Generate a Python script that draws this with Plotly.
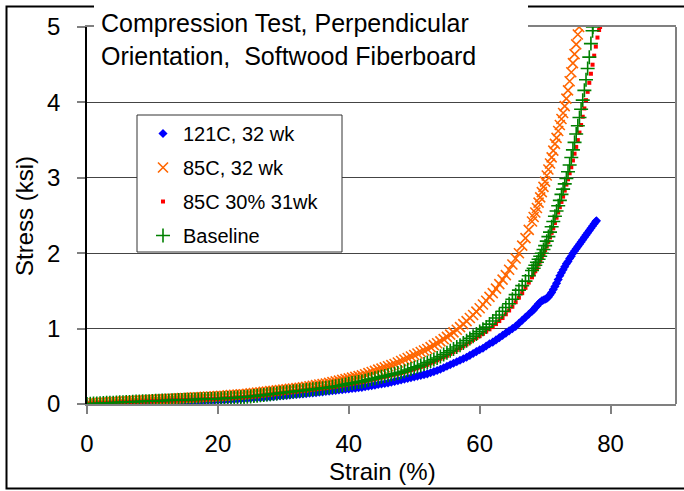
import plotly.graph_objects as go

# ---------------- data ----------------
series_names = ["121C, 32 wk", "85C, 32 wk", "85C 30% 31wk", "Baseline"]

# strain grid shared by the lower part of every curve (%)
strain_low = [0, 0.5, 1, 1.5, 2, 2.5, 3, 3.5, 4, 4.5,
              5, 5.5, 6, 6.5, 7, 7.5, 8, 8.5, 9, 9.5,
              10, 10.5, 11, 11.5, 12, 12.5, 13, 13.5, 14, 14.5,
              15, 15.5, 16, 16.5, 17, 17.5, 18, 18.5, 19, 19.5,
              20, 20.5, 21, 21.5, 22, 22.5, 23, 23.5, 24, 24.5,
              25, 25.5, 26, 26.5, 27, 27.5, 28, 28.5, 29, 29.5,
              30, 30.5, 31, 31.5, 32, 32.5, 33, 33.5, 34, 34.5,
              35, 35.5, 36, 36.5, 37, 37.5, 38, 38.5, 39, 39.5,
              40, 40.5, 41, 41.5, 42, 42.5, 43, 43.5, 44, 44.5,
              45, 45.5, 46, 46.5, 47, 47.5, 48, 48.5, 49, 49.5,
              50, 50.5, 51, 51.5, 52, 52.5, 53, 53.5, 54, 54.5,
              55, 55.5, 56, 56.5, 57, 57.5, 58, 58.5, 59, 59.5,
              60, 60.5, 61, 61.5, 62, 62.5, 63, 63.5, 64, 64.5,
              65, 65.5, 66, 66.5, 67, 67.5,
              68]

# 121C, 32 wk
stress_low_121C = [0.0, 0.002, 0.003, 0.005, 0.006, 0.008, 0.009, 0.011, 0.012, 0.014,
                   0.015, 0.017, 0.018, 0.02, 0.021, 0.023, 0.024, 0.026, 0.027, 0.029,
                   0.03, 0.031, 0.032, 0.033, 0.034, 0.035, 0.036, 0.037, 0.038, 0.039,
                   0.04, 0.041, 0.042, 0.043, 0.044, 0.045, 0.046, 0.047, 0.048, 0.049,
                   0.05, 0.052, 0.055, 0.057, 0.06, 0.062, 0.065, 0.067, 0.07, 0.073,
                   0.076, 0.079, 0.082, 0.085, 0.088, 0.091, 0.095, 0.098, 0.102, 0.106,
                   0.11, 0.114, 0.118, 0.122, 0.126, 0.13, 0.134, 0.138, 0.142, 0.146,
                   0.15, 0.155, 0.16, 0.165, 0.17, 0.175, 0.18, 0.185, 0.19, 0.195,
                   0.20, 0.205, 0.21, 0.215, 0.22, 0.228, 0.235, 0.242, 0.25, 0.258,
                   0.265, 0.272, 0.28, 0.29, 0.30, 0.31, 0.32, 0.33, 0.34, 0.35,
                   0.36, 0.37, 0.38, 0.39, 0.40, 0.415, 0.43, 0.445, 0.46, 0.48,
                   0.50, 0.52, 0.54, 0.56, 0.58, 0.60, 0.62, 0.645, 0.67, 0.695,
                   0.72, 0.74, 0.77, 0.80, 0.82, 0.85, 0.88, 0.91, 0.94, 0.97,
                   1.00, 1.03, 1.07, 1.11, 1.15, 1.19,
                   1.23]
strain_high_121C = [68.25, 68.5, 68.75, 69, 69.25, 69.5, 69.75, 70, 70.25, 70.5, 70.75, 71,
                    71.25, 71.5, 71.75, 72, 72.25, 72.5, 72.75, 73, 73.25, 73.5, 73.75, 74,
                    74.25, 74.5, 74.75, 75, 75.25, 75.5, 75.75, 76, 76.25, 76.5, 76.75, 77,
                    77.25, 77.5, 77.75, 77.85]
stress_high_121C = [1.25, 1.28, 1.30, 1.33, 1.35, 1.37, 1.38, 1.39, 1.40, 1.42, 1.45, 1.48,
                    1.52, 1.56, 1.60, 1.65, 1.70, 1.74, 1.78, 1.82, 1.86, 1.89, 1.93, 1.96,
                    2.00, 2.03, 2.06, 2.09, 2.12, 2.15, 2.18, 2.21, 2.24, 2.27, 2.30, 2.33,
                    2.36, 2.39, 2.42, 2.43]

# 85C, 32 wk
stress_low_85C = [0.0, 0.005, 0.01, 0.012, 0.015, 0.018, 0.02, 0.022, 0.025, 0.028,
                  0.03, 0.032, 0.035, 0.038, 0.04, 0.042, 0.045, 0.048, 0.05, 0.052,
                  0.055, 0.058, 0.06, 0.062, 0.065, 0.068, 0.07, 0.072, 0.075, 0.078,
                  0.08, 0.082, 0.085, 0.088, 0.09, 0.092, 0.095, 0.098, 0.10, 0.102,
                  0.105, 0.108, 0.11, 0.115, 0.12, 0.122, 0.125, 0.128, 0.13, 0.135,
                  0.14, 0.145, 0.15, 0.155, 0.16, 0.165, 0.17, 0.175, 0.18, 0.185,
                  0.19, 0.195, 0.20, 0.205, 0.21, 0.215, 0.22, 0.228, 0.235, 0.242,
                  0.25, 0.258, 0.265, 0.272, 0.28, 0.29, 0.30, 0.31, 0.32, 0.33,
                  0.34, 0.35, 0.36, 0.37, 0.38, 0.395, 0.41, 0.425, 0.44, 0.455,
                  0.47, 0.485, 0.50, 0.515, 0.53, 0.55, 0.57, 0.59, 0.61, 0.63,
                  0.65, 0.67, 0.69, 0.71, 0.73, 0.755, 0.78, 0.805, 0.83, 0.86,
                  0.89, 0.92, 0.95, 0.985, 1.02, 1.06, 1.10, 1.14, 1.18, 1.225,
                  1.27, 1.32, 1.37, 1.42, 1.47, 1.53, 1.59, 1.65, 1.71, 1.78,
                  1.85, 1.93, 2.00, 2.10, 2.20, 2.31,
                  2.42]
strain_high_85C = [68.25, 68.5, 68.75, 69, 69.25, 69.5, 69.75, 70, 70.25, 70.5, 70.75, 71,
                   71.25, 71.5, 71.75, 72, 72.25, 72.5, 72.75, 73, 73.25, 73.5, 73.75, 74,
                   74.25, 74.5, 74.75, 75, 75.2]
stress_high_85C = [2.48, 2.54, 2.60, 2.67, 2.74, 2.81, 2.88, 2.95, 3.03, 3.11, 3.19, 3.27,
                   3.36, 3.45, 3.53, 3.62, 3.70, 3.78, 3.86, 3.95, 4.05, 4.16, 4.28, 4.40,
                   4.52, 4.64, 4.77, 4.90, 5.00]

# 85C 30% 31wk
stress_low_85C30 = [0.0, 0.002, 0.004, 0.006, 0.008, 0.01, 0.012, 0.014, 0.016, 0.018,
                    0.02, 0.022, 0.024, 0.026, 0.028, 0.03, 0.031, 0.032, 0.034, 0.035,
                    0.037, 0.038, 0.04, 0.042, 0.043, 0.045, 0.046, 0.048, 0.049, 0.05,
                    0.052, 0.054, 0.055, 0.057, 0.058, 0.06, 0.061, 0.063, 0.064, 0.066,
                    0.067, 0.07, 0.072, 0.075, 0.077, 0.08, 0.083, 0.086, 0.09, 0.093,
                    0.097, 0.10, 0.105, 0.11, 0.115, 0.12, 0.125, 0.13, 0.135, 0.14,
                    0.145, 0.15, 0.155, 0.16, 0.165, 0.17, 0.175, 0.18, 0.185, 0.19,
                    0.195, 0.20, 0.205, 0.21, 0.215, 0.222, 0.228, 0.235, 0.243, 0.25,
                    0.26, 0.268, 0.275, 0.282, 0.29, 0.30, 0.31, 0.32, 0.33, 0.34,
                    0.35, 0.36, 0.37, 0.38, 0.39, 0.40, 0.41, 0.422, 0.435, 0.448,
                    0.46, 0.475, 0.49, 0.505, 0.52, 0.54, 0.56, 0.58, 0.60, 0.62,
                    0.64, 0.665, 0.69, 0.715, 0.74, 0.765, 0.79, 0.82, 0.85, 0.875,
                    0.90, 0.93, 0.96, 0.99, 1.02, 1.06, 1.10, 1.14, 1.19, 1.24,
                    1.29, 1.35, 1.41, 1.47, 1.54, 1.61,
                    1.68]
strain_high_85C30 = [68.25, 68.5, 68.75, 69, 69.25, 69.5, 69.75, 70, 70.25, 70.5, 70.75, 71,
                     71.25, 71.5, 71.75, 72, 72.25, 72.5, 72.75, 73, 73.25, 73.5, 73.75, 74,
                     74.25, 74.5, 74.75, 75, 75.25, 75.5, 75.75, 76, 76.25, 76.5, 76.75, 77,
                     77.25, 77.5, 77.75, 78, 78.25, 78.4]
stress_high_85C30 = [1.72, 1.76, 1.80, 1.85, 1.89, 1.94, 1.99, 2.04, 2.09, 2.15, 2.21, 2.27,
                     2.33, 2.40, 2.47, 2.54, 2.61, 2.68, 2.75, 2.83, 2.91, 2.98, 3.06, 3.14,
                     3.23, 3.32, 3.41, 3.50, 3.60, 3.70, 3.81, 3.92, 4.03, 4.14, 4.26, 4.38,
                     4.50, 4.62, 4.74, 4.86, 4.96, 5.00]

# Baseline
stress_low_base = [0.0, 0.003, 0.005, 0.008, 0.01, 0.012, 0.015, 0.017, 0.018, 0.02,
                   0.022, 0.024, 0.026, 0.028, 0.03, 0.032, 0.034, 0.035, 0.037, 0.038,
                   0.04, 0.042, 0.043, 0.045, 0.046, 0.048, 0.049, 0.05, 0.052, 0.054,
                   0.055, 0.057, 0.058, 0.06, 0.061, 0.063, 0.064, 0.066, 0.067, 0.068,
                   0.07, 0.072, 0.075, 0.078, 0.08, 0.083, 0.087, 0.09, 0.094, 0.097,
                   0.10, 0.105, 0.11, 0.115, 0.12, 0.125, 0.13, 0.135, 0.14, 0.145,
                   0.15, 0.155, 0.16, 0.165, 0.17, 0.175, 0.18, 0.185, 0.19, 0.195,
                   0.20, 0.205, 0.21, 0.215, 0.22, 0.228, 0.235, 0.242, 0.25, 0.26,
                   0.27, 0.278, 0.285, 0.292, 0.30, 0.31, 0.32, 0.33, 0.34, 0.35,
                   0.36, 0.37, 0.38, 0.39, 0.40, 0.41, 0.42, 0.435, 0.45, 0.465,
                   0.48, 0.495, 0.51, 0.53, 0.55, 0.57, 0.59, 0.61, 0.63, 0.655,
                   0.68, 0.705, 0.73, 0.755, 0.78, 0.81, 0.84, 0.87, 0.90, 0.93,
                   0.96, 0.99, 1.02, 1.06, 1.10, 1.14, 1.18, 1.23, 1.28, 1.33,
                   1.39, 1.45, 1.51, 1.57, 1.63, 1.70,
                   1.77]
strain_high_base = [68.25, 68.5, 68.75, 69, 69.25, 69.5, 69.75, 70, 70.25, 70.5, 70.75, 71,
                    71.25, 71.5, 71.75, 72, 72.25, 72.5, 72.75, 73, 73.25, 73.5, 73.75, 74,
                    74.25, 74.5, 74.75, 75, 75.25, 75.5, 75.75, 76, 76.25, 76.5, 76.75, 77,
                    77.25, 77.3]
stress_high_base = [1.80, 1.84, 1.88, 1.92, 1.96, 2.00, 2.05, 2.10, 2.16, 2.22, 2.28, 2.35,
                    2.42, 2.49, 2.56, 2.63, 2.70, 2.78, 2.85, 2.92, 2.99, 3.08, 3.17, 3.27,
                    3.37, 3.47, 3.58, 3.69, 3.80, 3.91, 4.03, 4.16, 4.30, 4.45, 4.60, 4.78,
                    4.95, 5.00]

x_ticks = [0, 20, 40, 60, 80]
y_ticks = [0, 1, 2, 3, 4, 5]

title_text = "Compression Test, Perpendicular<br>Orientation,\u00a0 Softwood Fiberboard"
x_title = "Strain (%)"
y_title = "Stress (ksi)"

# ---------------- layout geometry (pixels) ----------------
W, H = 684, 491
ML, MR, MT, MB = 87, 8, 27, 87
PW, PH = W - ML - MR, H - MT - MB


def px(x):
    return (x - ML) / PW


def py(y):
    return (H - MB - y) / PH


FONT = "Liberation Sans, Arial, sans-serif"

fig = go.Figure()

fig.add_trace(go.Scatter(
    x=strain_low + strain_high_121C, y=stress_low_121C + stress_high_121C,
    mode="markers", name=series_names[0], legendgroup="a",
    marker=dict(symbol="diamond", size=7, color="#0000FF", line=dict(width=0))))
fig.add_trace(go.Scatter(
    x=strain_low + strain_high_85C, y=stress_low_85C + stress_high_85C,
    mode="markers", name=series_names[1], legendgroup="b",
    marker=dict(symbol="x-thin", size=10, color="#FF6600",
                line=dict(width=1.6, color="#FF6600"))))
fig.add_trace(go.Scatter(
    x=strain_low + strain_high_85C30, y=stress_low_85C30 + stress_high_85C30,
    mode="markers", name=series_names[2], legendgroup="c",
    marker=dict(symbol="square", size=4, color="#FF0000", line=dict(width=0))))
fig.add_trace(go.Scatter(
    x=strain_low + strain_high_base, y=stress_low_base + stress_high_base,
    mode="markers", name=series_names[3], legendgroup="d",
    marker=dict(symbol="cross-thin", size=10, color="#008000",
                line=dict(width=1.6, color="#008000"))))

shapes = [
    # outer chart frame
    dict(type="rect", xref="paper", yref="paper", layer="above",
         x0=px(6.5), x1=px(692), y0=py(488.5), y1=py(6.5),
         line=dict(color="black", width=2), fillcolor="rgba(0,0,0,0)"),
    # right edge of plot area
    dict(type="line", xref="paper", yref="paper", layer="above",
         x0=1, x1=1, y0=0, y1=1, line=dict(color="#808080", width=2)),
    # legend box
    dict(type="rect", xref="paper", yref="paper", layer="above",
         x0=px(137), x1=px(342), y0=py(252), y1=py(115),
         line=dict(color="#333333", width=1), fillcolor="white"),
]

TITLE_L, TITLE_R, TITLE_T, TITLE_B = 94, 528, 4, 75
TITLE_PAD = 7

annotations = [
    # chart title in an opaque white box that hides the frame behind it
    dict(text=title_text, xref="paper", yref="paper", x=px(TITLE_L), y=py(TITLE_T),
         xanchor="left", yanchor="top", align="left", valign="middle",
         width=TITLE_R - TITLE_L - 2 * TITLE_PAD,
         height=TITLE_B - TITLE_T - 2 * TITLE_PAD,
         bgcolor="white", bordercolor="white", borderwidth=0, borderpad=TITLE_PAD,
         showarrow=False,
         font=dict(family=FONT, size=25, color="black")),
    dict(text=x_title, xref="paper", yref="paper", x=px(382), y=py(471),
         xanchor="center", yanchor="middle", showarrow=False,
         font=dict(family=FONT, size=24, color="black")),
    dict(text=y_title, xref="paper", yref="paper", x=px(24), y=py(216),
         xanchor="center", yanchor="middle", textangle=-90, showarrow=False,
         font=dict(family=FONT, size=24, color="black")),
]

fig.update_layout(
    width=W, height=H,
    margin=dict(l=ML, r=MR, t=MT, b=MB, pad=0),
    paper_bgcolor="white", plot_bgcolor="white",
    font=dict(family=FONT, size=24, color="black"),
    showlegend=True,
    legend=dict(x=px(143), y=py(114), xanchor="left", yanchor="top",
                bgcolor="rgba(0,0,0,0)", borderwidth=0,
                font=dict(family=FONT, size=20, color="black"),
                tracegroupgap=5, traceorder="grouped"),
    shapes=shapes,
    annotations=annotations,
    xaxis=dict(range=[0, 90], tickvals=x_ticks, ticks="outside", ticklen=8,
               tickwidth=2, tickcolor="#808080", showline=True, linecolor="#808080",
               linewidth=2, mirror=True, showgrid=False, zeroline=False,
               tickfont=dict(family=FONT, size=24, color="black"),
               ticklabelstandoff=9),
    yaxis=dict(range=[0, 5], tickvals=y_ticks, ticks="outside", ticklen=8,
               tickwidth=2, tickcolor="#808080", showline=True, linecolor="black",
               linewidth=1.5, mirror=False, showgrid=True, gridcolor="#444444",
               gridwidth=1, zeroline=False,
               tickfont=dict(family=FONT, size=24, color="black"),
               ticklabelstandoff=12),
)

fig.write_html("out.html")
